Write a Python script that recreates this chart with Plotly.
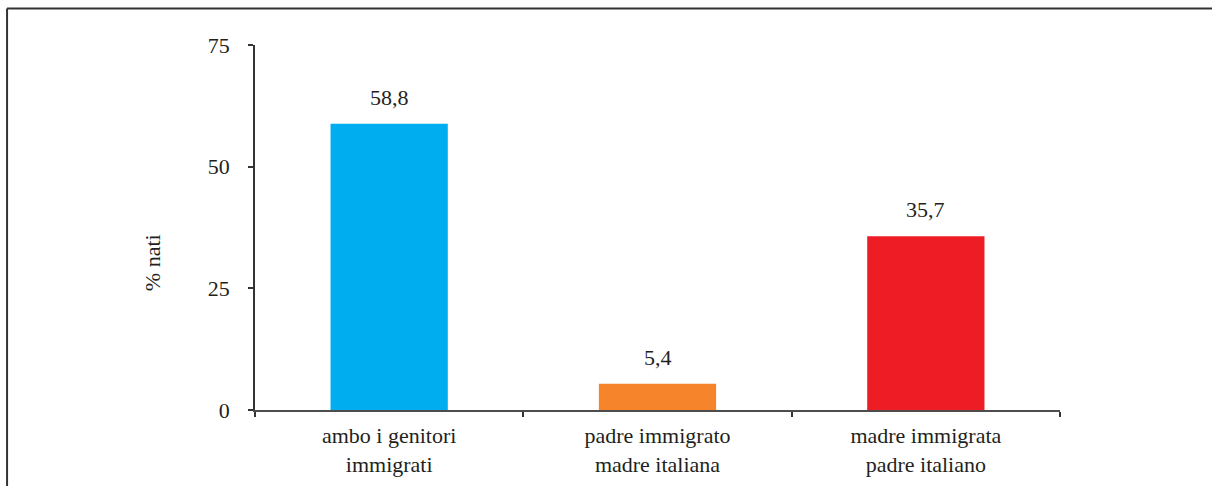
import plotly.graph_objects as go

categories = ["ambo i genitori<br>immigrati", "padre immigrato<br>madre italiana", "madre immigrata<br>padre italiano"]
values = [58.8, 5.4, 35.7]
bar_colors = ["#00AEEF", "#F5842A", "#EE1D25"]
y_ticks = [0, 25, 50, 75]

FONT = "Liberation Serif"
INK = "#231F20"
SIZE = 22

fig = go.Figure(
    go.Bar(
        x=categories,
        y=values,
        marker=dict(color=bar_colors, line=dict(width=0)),
        width=0.437,
        cliponaxis=False,
    )
)

# value labels sitting above each bar
value_labels = [
    dict(
        x=c, y=v, xref="x", yref="y",
        text=f"{v:.1f}".replace(".", ","),
        showarrow=False,
        yanchor="bottom", xanchor="center",
        yshift=12,
        font=dict(family=FONT, size=SIZE, color=INK),
    )
    for c, v in zip(categories, values)
]

fig.update_layout(
    width=1212,
    height=486,
    margin=dict(l=255, r=152, t=45, b=76, autoexpand=False),
    paper_bgcolor="white",
    plot_bgcolor="white",
    separators=",.",
    showlegend=False,
    font=dict(family=FONT, size=SIZE, color=INK),
    xaxis=dict(
        automargin=False,
        showline=True,
        linecolor="#4D4D4D",
        linewidth=2,
        ticks="outside",
        ticklen=5,
        tickwidth=1.5,
        tickcolor="#333333",
        tickson="boundaries",
        showgrid=False,
        tickfont=dict(family=FONT, size=SIZE, color=INK),
        ticklabelstandoff=5,
    ),
    yaxis=dict(
        automargin=False,
        range=[0, 75],
        tickvals=y_ticks,
        showline=True,
        linecolor="#333333",
        linewidth=1.5,
        ticks="outside",
        ticklen=5,
        tickwidth=1.5,
        tickcolor="#333333",
        showgrid=False,
        zeroline=False,
        tickfont=dict(family=FONT, size=SIZE, color=INK),
        ticklabelstandoff=14,
    ),
    annotations=value_labels + [
        dict(
            text="% nati",
            xref="paper", yref="paper",
            x=-0.128, y=0.405,
            xanchor="center", yanchor="middle",
            textangle=-90,
            showarrow=False,
            font=dict(family=FONT, size=SIZE, color=INK),
        )
    ],
    shapes=[
        # outer frame: top and left edges
        dict(type="line", xref="paper", yref="paper",
             x0=-0.308, x1=1.2, y0=1.1, y1=1.1,
             line=dict(color="#333333", width=2)),
        dict(type="line", xref="paper", yref="paper",
             x0=-0.308, x1=-0.308, y0=1.1, y1=-0.3,
             line=dict(color="#333333", width=2)),
    ],
)

fig.write_html("out.html")
